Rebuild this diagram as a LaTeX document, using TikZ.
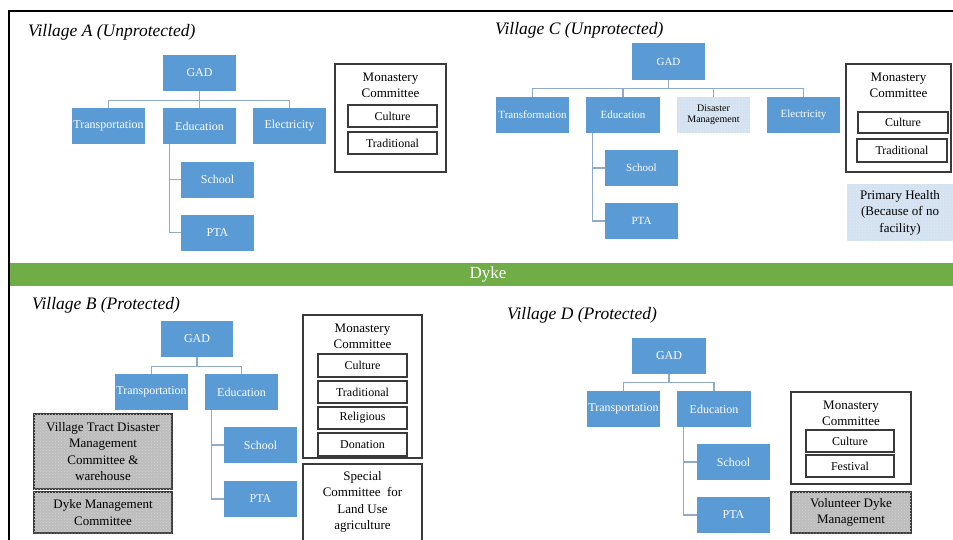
\documentclass[tikz,border=0pt]{standalone}
\usepackage{fontspec}
\usetikzlibrary{patterns}
\setmainfont{Liberation Serif}
\definecolor{boxblue}{HTML}{5B9BD5}
\definecolor{connc}{HTML}{8FAACB}
\definecolor{dykegreen}{HTML}{70AD47}
\definecolor{lightblue}{HTML}{D3E1F0}
\definecolor{lightbluedot}{HTML}{E4EDF7}
\definecolor{grayfill}{HTML}{BDBDBD}
\definecolor{graydot}{HTML}{D2D2D2}
\definecolor{frameedge}{HTML}{3A3A3A}
\tikzset{
  bbox/.style={fill=boxblue, text=white, minimum width=73pt, minimum height=36pt, inner sep=0pt, font=\fontsize{12}{13}\selectfont},
  cbox/.style={bbox, font=\fontsize{11}{12}\selectfont},
  conn/.style={draw=connc, line width=1.2pt},
  mbox/.style={draw=frameedge, line width=1.2pt, inner sep=0pt},
  ibox/.style={draw=frameedge, line width=1.2pt, inner sep=0pt, minimum width=89pt, minimum height=22pt, font=\fontsize{12}{13}\selectfont},
  mtitle/.style={align=center, inner sep=0pt, font=\fontsize{13}{16}\selectfont},
  vtitle/.style={anchor=west, inner sep=0pt, font=\fontsize{17.5}{20}\selectfont\itshape},
  graybox/.style={fill=grayfill, postaction={pattern=crosshatch dots, pattern color=graydot}, draw=frameedge, line width=1.2pt, inner sep=0pt, align=center, font=\fontsize{13}{16.5}\selectfont},
  lbbox/.style={fill=lightblue, postaction={pattern=crosshatch dots, pattern color=lightbluedot}, inner sep=0pt, align=center},
}
\begin{document}
\begin{tikzpicture}[x=1pt, y=-1pt]
\clip (0,0) rectangle (953,539);
\fill[white] (0,0) rectangle (953,539);

% frame
\draw[line width=2.5pt, black] (9,545) -- (9,11) -- (960,11);

% ================= Village A =================
\node[vtitle] (tA) at (28,32) {Village A (Unprotected)};
\node[bbox] (gadA) at (199.5,73) {GAD};
\node[bbox] (trA) at (108.5,126) {Transportation};
\node[bbox] (edA) at (199.5,126) {Education};
\node[bbox] (elA) at (289.5,126) {Electricity};
\node[bbox] (scA) at (217.5,179.5) {School};
\node[bbox] (ptA) at (217.5,232.5) {PTA};
\draw[conn] (gadA.south) -- ++(0,9) -| (trA.north);
\draw[conn] (gadA.south) -- ++(0,9) -| (elA.north);
\draw[conn] (gadA.south) -- (edA.north);
\draw[conn] ([xshift=7pt]edA.south west) |- (scA.west);
\draw[conn] ([xshift=7pt]edA.south west) |- (ptA.west);

\node[mbox, minimum width=111pt, minimum height=108pt] (mA) at (390.5,118) {};
\node[mtitle] (mAt) at (390.5,85) {Monastery\\Committee};
\node[ibox] (cuA) at (392.5,116) {Culture};
\node[ibox] (trdA) at (392.5,143) {Traditional};

% ================= Village C =================
\node[vtitle] (tC) at (495,30) {Village C (Unprotected)};
\node[cbox, minimum height=37pt] (gadC) at (668.5,61.5) {GAD};
\node[cbox] (tfC) at (532.5,115) {Transformation};
\node[cbox, minimum width=74pt] (edC) at (623,115) {Education};
\node[lbbox, minimum width=73pt, minimum height=36pt, font=\fontsize{10}{11}\selectfont] (dmC) at (713.5,115) {Disaster\\Management};
\node[cbox] (elC) at (803.5,115) {Electricity};
\node[cbox] (scC) at (641.5,168) {School};
\node[cbox] (ptC) at (641.5,221) {PTA};
\draw[conn] (gadC.south) -- ++(0,8) -| (tfC.north);
\draw[conn] (gadC.south) -- ++(0,8) -| (edC.north);
\draw[conn] (gadC.south) -- ++(0,8) -| (dmC.north);
\draw[conn] (gadC.south) -- ++(0,8) -| (elC.north);
\draw[conn] ([xshift=7pt]edC.south west) |- (scC.west);
\draw[conn] ([xshift=7pt]edC.south west) |- (ptC.west);

\node[mbox, minimum width=105pt, minimum height=108pt] (mC) at (898.5,118) {};
\node[mtitle] (mCt) at (898.5,85) {Monastery\\Committee};
\node[ibox, minimum width=90pt, minimum height=21pt] (cuC) at (903,122.5) {Culture};
\node[ibox, minimum width=90pt, minimum height=23pt] (trdC) at (902,150.5) {Traditional};
\node[lbbox, minimum width=106pt, minimum height=57pt, font=\fontsize{13}{16.5}\selectfont] (phC) at (900,212.5) {Primary Health\\(Because of no\\facility)};

% ================= Dyke =================
\node[fill=dykegreen, minimum width=944pt, minimum height=23pt, inner sep=0pt] (dyke) at (481.5,274.5) {};
\node[text=white, inner sep=0pt, font=\fontsize{17}{20}\selectfont] (dykeT) at (488,274.5) {Dyke};

% ================= Village B =================
\node[vtitle] (tB) at (32,305) {Village B (Protected)};
\node[bbox, minimum width=72pt] (gadB) at (197,339) {GAD};
\node[bbox] (trB) at (151.5,392) {Transportation};
\node[bbox] (edB) at (241.5,392) {Education};
\node[bbox] (scB) at (260.5,445) {School};
\node[bbox] (ptB) at (260.5,499) {PTA};
\draw[conn] (gadB.south) -- ++(0,9) -| (trB.north);
\draw[conn] (gadB.south) -- ++(0,9) -| (edB.north);
\draw[conn] ([xshift=7pt]edB.south west) |- (scB.west);
\draw[conn] ([xshift=7pt]edB.south west) |- (ptB.west);

\node[mbox, minimum width=119pt, minimum height=143pt] (mB) at (362.5,386.5) {};
\node[mtitle] (mBt) at (362.5,336.5) {Monastery\\Committee};
\node[ibox, minimum height=23pt] (cuB) at (362.5,365.5) {Culture};
\node[ibox] (trdB) at (362.5,392) {Traditional};
\node[ibox] (reB) at (362.5,418) {Religious};
\node[ibox, minimum height=23pt] (doB) at (362.5,444.5) {Donation};
\node[mbox, minimum width=119pt, minimum height=90pt] (spB) at (362.5,509) {};
\node[mtitle, font=\fontsize{13}{16.5}\selectfont] (spBt) at (362.5,502) {Special\\Committee\ \ for\\Land Use\\agriculture};

\node[graybox, minimum width=138pt, minimum height=75pt] (vtB) at (103,451.5) {Village Tract Disaster\\Management\\Committee \&\\warehouse};
\node[graybox, minimum width=138pt, minimum height=41pt] (dmB) at (103,512.5) {Dyke Management\\Committee};

% ================= Village D =================
\node[vtitle] (tD) at (507,315) {Village D (Protected)};
\node[bbox, minimum width=74pt] (gadD) at (669,356) {GAD};
\node[bbox] (trD) at (623.5,409) {Transportation};
\node[bbox, minimum width=74pt] (edD) at (714,409) {Education};
\node[bbox] (scD) at (733.5,462) {School};
\node[bbox] (ptD) at (733.5,515) {PTA};
\draw[conn] (gadD.south) -- ++(0,8) -| (trD.north);
\draw[conn] (gadD.south) -- ++(0,8) -| (edD.north);
\draw[conn] ([xshift=7pt]edD.south west) |- (scD.west);
\draw[conn] ([xshift=7pt]edD.south west) |- (ptD.west);

\node[mbox, minimum width=120pt, minimum height=92pt] (mD) at (851,438) {};
\node[mtitle] (mDt) at (851,413.5) {Monastery\\Committee};
\node[ibox, minimum width=88pt] (cuD) at (850,441) {Culture};
\node[ibox, minimum width=88pt] (feD) at (850,466) {Festival};
\node[graybox, minimum width=120pt, minimum height=41pt] (vdD) at (851,512.5) {Volunteer Dyke\\Management};
\end{tikzpicture}
\end{document}
